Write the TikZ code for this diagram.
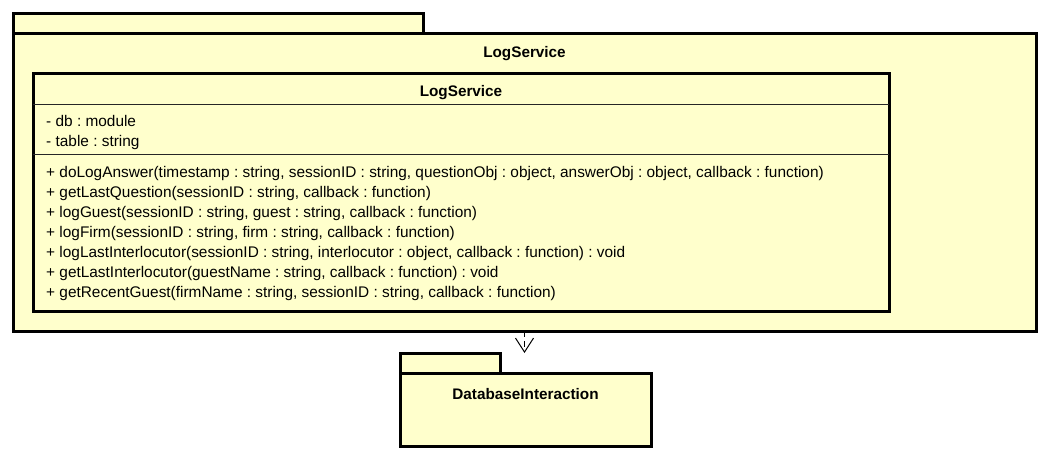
\documentclass[tikz,border=0pt]{standalone}
\usepackage{fontspec}
\setmainfont{Liberation Sans}
\usetikzlibrary{positioning,arrows.meta}
\definecolor{umlyellow}{HTML}{FFFFCC}
\frenchspacing

\tikzset{
  pkg/.style={draw, line width=3pt, fill=umlyellow, inner sep=0pt, outer sep=0pt, anchor=north west},
  cls/.style={draw, line width=3pt, fill=umlyellow, inner sep=0pt, outer sep=0pt, anchor=north west},
  pkgname/.style={font=\fontsize{15.3}{18}\selectfont\bfseries, inner sep=0pt, anchor=base},
  member/.style={font=\fontsize{15.4}{18}\selectfont, inner sep=0pt, anchor=base west},
  sep/.style={line width=1pt, black!85},
  dep/.style={line width=1pt, dash pattern=on 6pt off 4pt, -{Straight Barb[length=14pt, width=18pt, line width=1pt]}}
}

\begin{document}
\begin{tikzpicture}[x=1pt, y=-1pt]
  \useasboundingbox (0,0) rectangle (1049,458);
  % outer package
  \node[pkg, minimum width=410pt, minimum height=20pt] (logtab) at (13,13) {};
  \node[pkg, minimum width=1023pt, minimum height=298pt] (logpkg) at (13,33) {};
  \node[pkgname] (logname) at (524.5,57) {LogService};
  % class
  \node[cls, minimum width=856pt, minimum height=238pt] (logcls) at (33,73) {};
  \node[pkgname] (clsname) at (461,96) {LogService};
  \draw[sep] ([yshift=-31pt]logcls.north west) -- ([yshift=-31pt]logcls.north east);
  \draw[sep] ([yshift=-81pt]logcls.north west) -- ([yshift=-81pt]logcls.north east);
  \foreach \a [count=\i] in {{- db : module}, {- table : string}}
    \node[member] (a\i) at (46,106+20*\i) {\a};
  \foreach \m [count=\i] in {
      {+ doLogAnswer(timestamp : string, sessionID : string, questionObj : object, answerObj : object, callback : function)},
      {+ getLastQuestion(sessionID : string, callback : function)},
      {+ logGuest(sessionID : string, guest : string, callback : function)},
      {+ logFirm(sessionID : string, firm : string, callback : function)},
      {+ logLastInterlocutor(sessionID : string, interlocutor : object, callback : function) : void},
      {+ getLastInterlocutor(guestName : string, callback : function) : void},
      {+ getRecentGuest(firmName : string, sessionID : string, callback : function)}}
    \node[member] (m\i) at (46,157.5+20*\i) {\m};
  % database package
  \node[pkg, minimum width=100pt, minimum height=20pt] (dbtab) at (400,353) {};
  \node[pkg, minimum width=251pt, minimum height=73pt] (dbpkg) at (400,373) {};
  \node[pkgname] (dbname) at (525.5,399) {DatabaseInteraction};
  \draw[dep] (logpkg.south) -- (logpkg.south |- dbtab.north);
\end{tikzpicture}
\end{document}
